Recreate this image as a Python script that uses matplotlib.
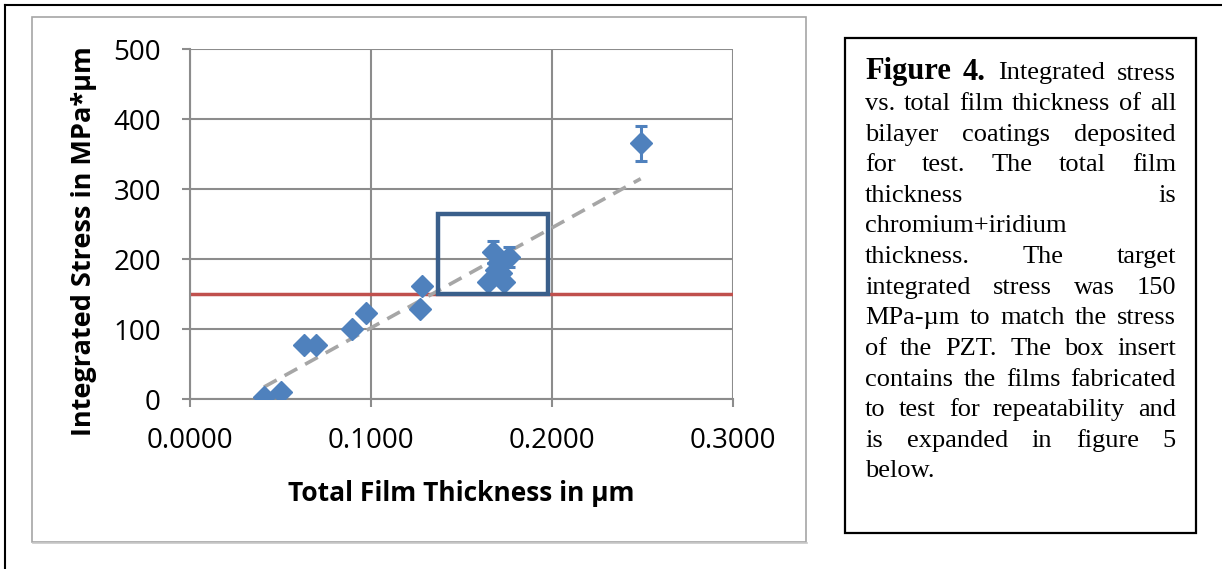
import numpy as np
import matplotlib
matplotlib.use("Agg")
import matplotlib.pyplot as plt
from matplotlib.patches import Rectangle
from matplotlib.lines import Line2D

# ---------------- data ----------------
thickness = [0.0409, 0.0503, 0.0630, 0.0696, 0.0895, 0.0972, 0.1270, 0.1282,
             0.1675, 0.1765, 0.1645, 0.1735, 0.1690, 0.1720, 0.1700, 0.2490]
stress = [3, 10, 77, 77, 100, 123, 129, 161,
          210, 203, 167, 167, 185, 180, 195, 365]
stress_err = [0, 0, 0, 0, 0, 0, 0, 0,
              16, 14, 0, 0, 0, 0, 0, 25]
target_stress = 150
box_x = [0.137, 0.198]
box_y = [150, 264]
xticks = [0.0, 0.1, 0.2, 0.3]
xticklabels = ["0.0000", "0.1000", "0.2000", "0.3000"]
yticks = [0, 100, 200, 300, 400, 500]

W, H = 1222, 569
fig = plt.figure(figsize=(W / 100, H / 100), dpi=100)

def fx(px):
    return px / W

def fy(py):
    return 1 - py / H

# outer page border (black)
fig.add_artist(Line2D([fx(5), 1.0], [fy(5), fy(5)], color="black", lw=1.5))
fig.add_artist(Line2D([fx(5), fx(5)], [fy(5), 0.0], color="black", lw=1.5))

# chart frame
fig.add_artist(Rectangle((fx(32), fy(542)), fx(806) - fx(32), fy(17) - fy(542),
                         fill=False, edgecolor="#a6a6a6", lw=1.2))
fig.add_artist(Line2D([fx(33), fx(807)], [fy(543), fy(543)], color="#c8c8c8", lw=1.2))

# axes
ax = fig.add_axes([fx(190), fy(399), fx(733) - fx(190), fy(49) - fy(399)])
ax.set_xlim(0, 0.3)
ax.set_ylim(0, 500)
grid_c = "#8c8c8c"
for s in ["top", "right"]:
    ax.spines[s].set_visible(False)
for s in ["left", "bottom"]:
    ax.spines[s].set_color(grid_c)
    ax.spines[s].set_linewidth(1.5)
ax.set_xticks(xticks)
ax.set_xticklabels(xticklabels)
ax.set_yticks(yticks)
ax.tick_params(axis="both", colors=grid_c, length=6, width=1.5, labelsize=20,
               labelcolor="black", direction="out")
ax.tick_params(axis="y", pad=15)
ax.tick_params(axis="x", pad=14)
ax.grid(True, color=grid_c, lw=1.5)
ax.set_axisbelow(True)
for lab in ax.get_xticklabels() + ax.get_yticklabels():
    lab.set_family("Open Sans")

# target line
ax.axhline(target_stress, color="#c0504d", lw=2.5, zorder=2)

# trend line
coef = np.polyfit(thickness, stress, 1)
tx = np.array([min(thickness), max(thickness)])
ax.plot(tx, np.polyval(coef, tx), color="#a6a6a6", lw=2.6, ls=(0, (4, 2.5)), zorder=3)

# data
ax.errorbar(thickness, stress, yerr=stress_err, fmt="D", color="#4f81bd",
            ms=11, ecolor="#4f81bd", elinewidth=2.2, capsize=4.5, capthick=2.2,
            mec="#4f81bd", zorder=4)

# box insert
ax.add_patch(Rectangle((box_x[0], box_y[0]), box_x[1] - box_x[0], box_y[1] - box_y[0],
                       fill=False, edgecolor="#3a5f8b", lw=3.2, zorder=5))

ax.set_xlabel("Total Film Thickness in µm", fontsize=19, fontweight="bold",
              family="Open Sans", labelpad=18)
ax.set_ylabel("Integrated Stress in MPa*µm", fontsize=19.5, fontweight="bold",
              family="Open Sans")
ax.yaxis.set_label_coords(-0.172, 0.45)

# caption box
fig.add_artist(Rectangle((fx(845), fy(533)), fx(1196) - fx(845), fy(38) - fy(533),
                         fill=False, edgecolor="black", lw=1.6))

cap_lines = [
    ([("Figure", True), ("4.", True), ("Integrated", False), ("stress", False)], True),
    ([(w, False) for w in "vs. total film thickness of all".split()], True),
    ([(w, False) for w in "bilayer coatings deposited".split()], True),
    ([(w, False) for w in "for test. The total film".split()], True),
    ([(w, False) for w in "thickness is".split()], True),
    ([(w, False) for w in "chromium+iridium".split()], False),
    ([(w, False) for w in "thickness. The target".split()], True),
    ([(w, False) for w in "integrated stress was 150".split()], True),
    ([(w, False) for w in "MPa-µm to match the stress".split()], True),
    ([(w, False) for w in "of the PZT. The box insert".split()], True),
    ([(w, False) for w in "contains the films fabricated".split()], True),
    ([(w, False) for w in "to test for repeatability and".split()], True),
    ([(w, False) for w in "is expanded in figure 5".split()], True),
    ([(w, False) for w in "below.".split()], False),
]

renderer = fig.canvas.get_renderer()
left, right = 865, 1176
base0, step = 79.5, 30.6
reg_size, bold_size = 19, 22
for i, (words, justify) in enumerate(cap_lines):
    yb = base0 + i * step
    arts = []
    widths = []
    for w, b in words:
        t = fig.text(0, fy(yb), w, family="Liberation Serif",
                     fontsize=bold_size if b else reg_size,
                     fontweight="bold" if b else "normal", va="baseline", ha="left")
        arts.append(t)
        widths.append(t.get_window_extent(renderer).width)
    if justify and len(words) > 1:
        gap = (right - left - sum(widths)) / (len(words) - 1)
    else:
        gap = 6
    x = left
    for t, wd in zip(arts, widths):
        t.set_x(fx(x))
        x += wd + gap

fig.savefig("out.png", dpi=100)
